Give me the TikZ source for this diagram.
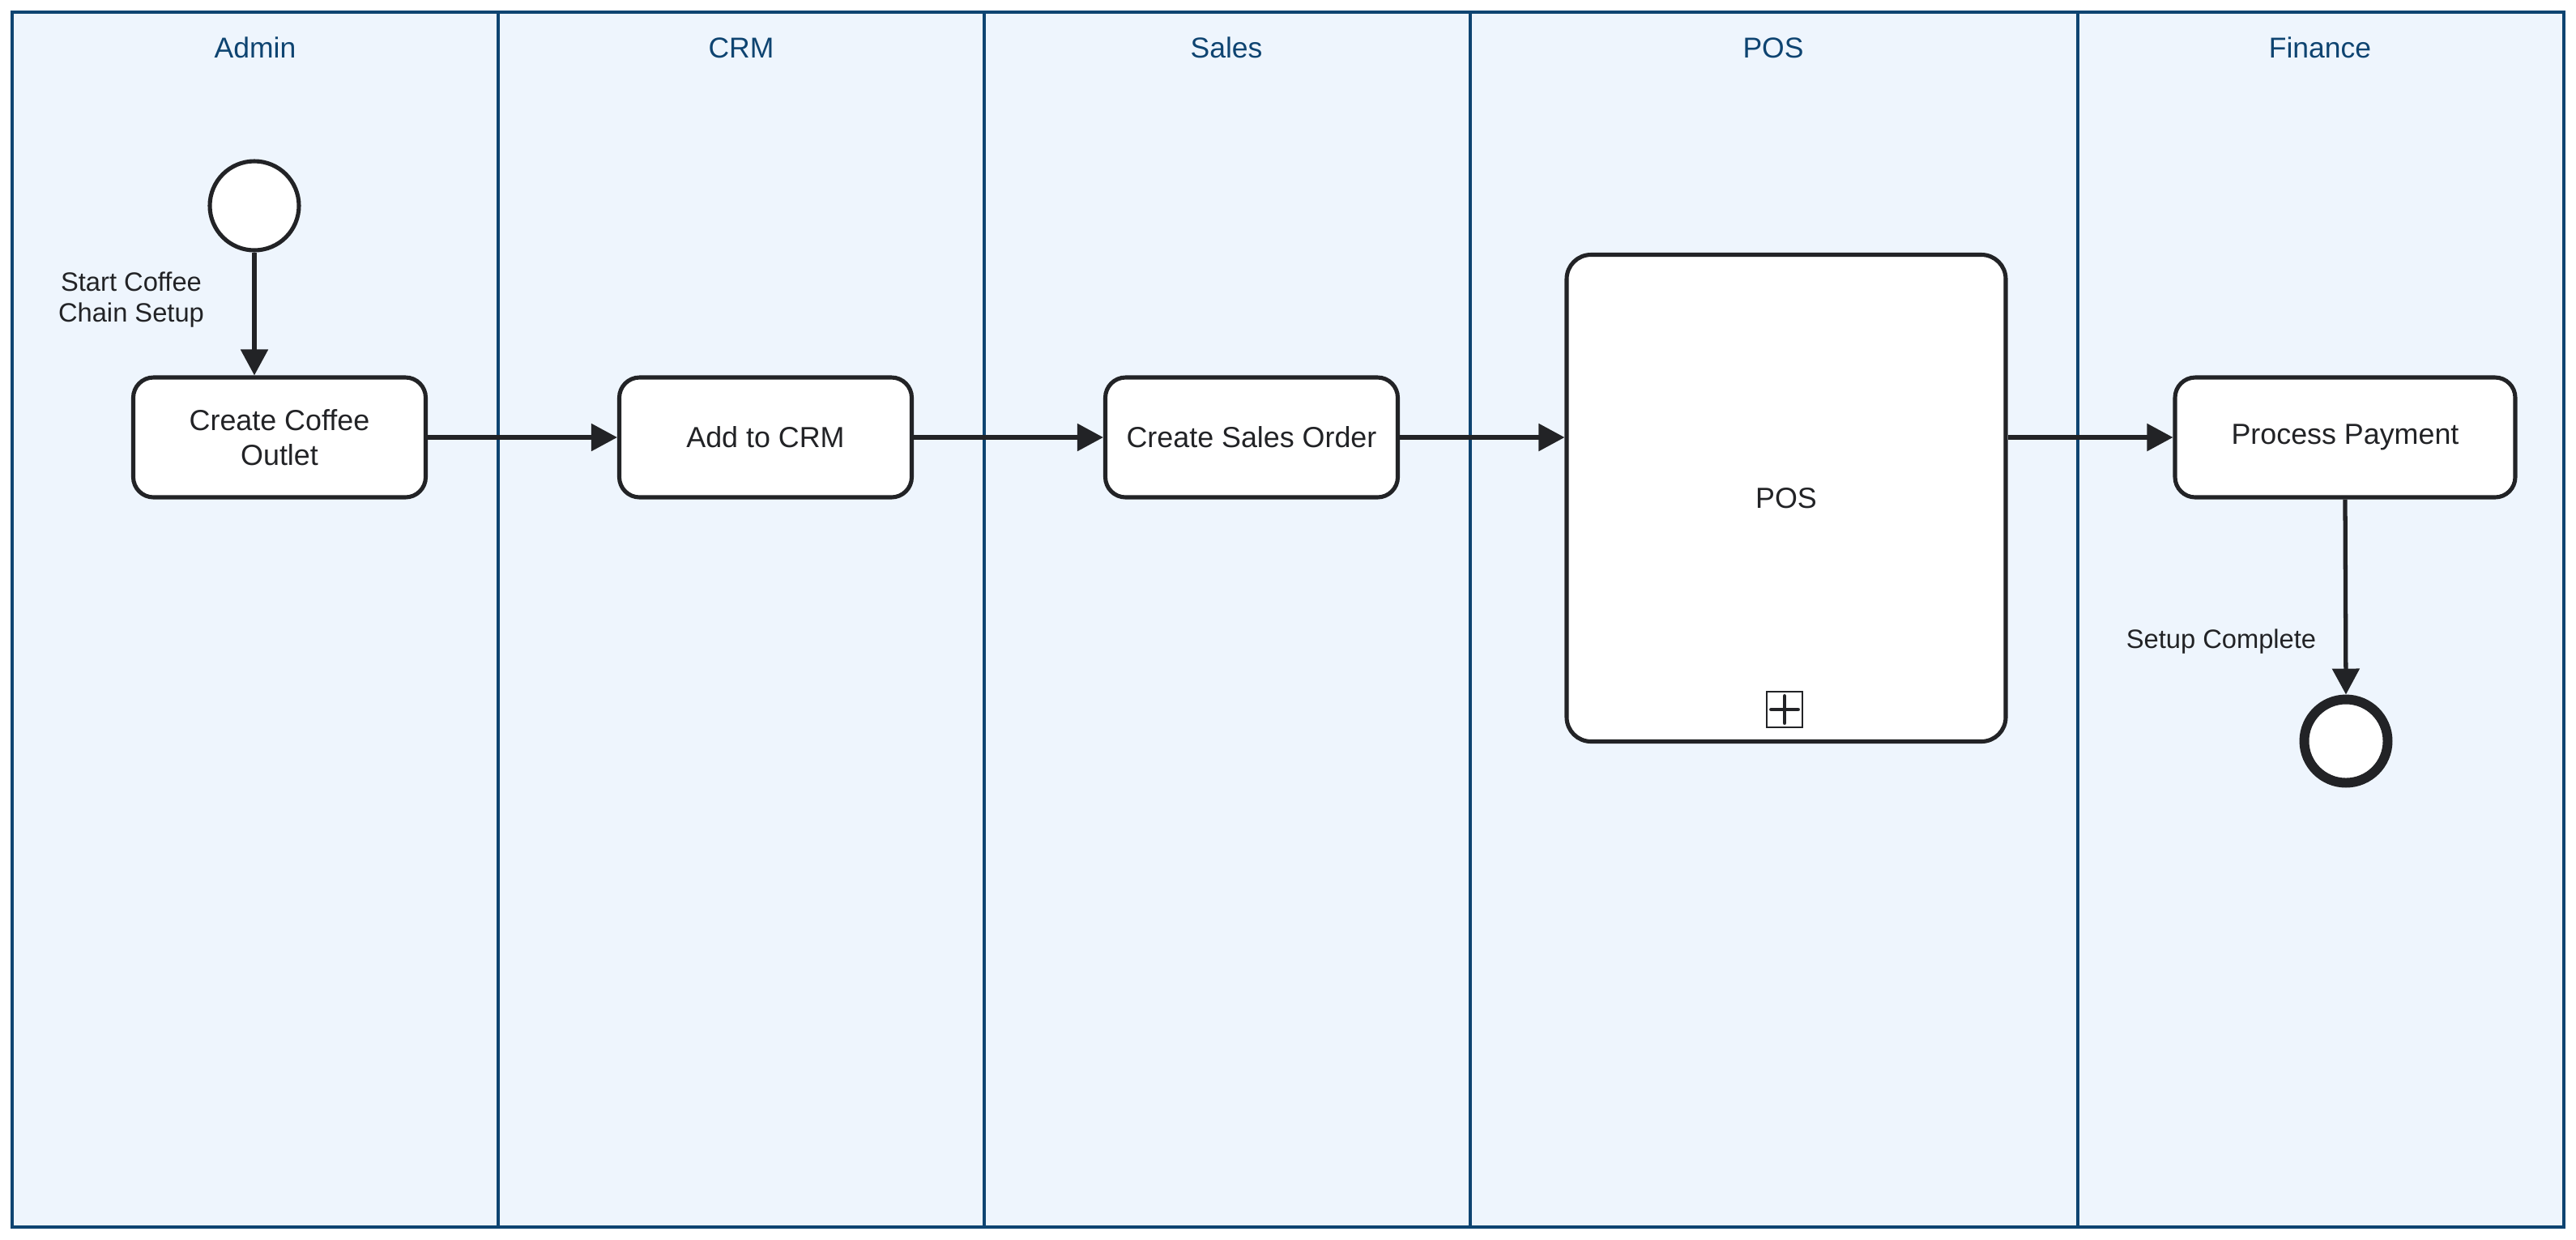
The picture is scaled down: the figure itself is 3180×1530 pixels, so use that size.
\documentclass[tikz,border=0pt]{standalone}
\usepackage{fontspec}
\setmainfont{Liberation Sans}
\usetikzlibrary{arrows.meta}
\definecolor{lanefill}{HTML}{EEF5FD}
\definecolor{laneline}{HTML}{0E4471}
\definecolor{ink}{HTML}{222326}
\tikzset{
  lanetitle/.style={text=laneline, font=\fontsize{10.1}{12}\selectfont, inner sep=0},
  task/.style={draw=ink, line width=1.45pt, fill=white, rounded corners=2.5mm,
    minimum width=36.1mm, minimum height=14.8mm, align=center, inner sep=0,
    text=ink, font=\fontsize{10.2}{12.2}\selectfont},
  flow/.style={draw=ink, line width=1.5pt, -{Triangle[length=3.2mm,width=3.3mm]}},
  lbl/.style={text=ink, align=center, inner sep=0, font=\fontsize{9.3}{10.8}\selectfont},
}
\begin{document}
\begin{tikzpicture}[x=0.1mm,y=-0.1mm]
\useasboundingbox (0,0) rectangle (3180,1530);
% pool and lanes
\fill[white] (0,0) rectangle (3180,1530);
\filldraw[fill=lanefill, draw=laneline, line width=1.3pt] (15,15) rectangle (3165,1515);
\foreach \x in {615,1215,1815,2565}
  \draw[laneline, line width=1.3pt] (\x,15) -- (\x,1515);
\node[lanetitle] (tadmin) at (315,59) {Admin};
\node[lanetitle] (tcrm) at (915,59) {CRM};
\node[lanetitle] (tsales) at (1514,59) {Sales};
\node[lanetitle] (tpos) at (2189,59) {POS};
\node[lanetitle] (tfin) at (2864,59) {Finance};
% events
\node[circle, draw=ink, line width=1.45pt, fill=white, minimum size=11mm, inner sep=0] (start) at (314,254) {};
\node[circle, draw=ink, line width=3.4pt, fill=white, minimum size=10.3mm, inner sep=0] (end) at (2896,915) {};
% tasks
\node[task] (cob) at (345,540) {Create Coffee\\Outlet};
\node[task] (crm) at (945,540) {Add to CRM};
\node[task] (sales) at (1545,540) {Create Sales Order};
\node[task, minimum width=54.2mm, minimum height=60.1mm, rounded corners=3mm] (pos) at (2205,615) {POS};
\node[task, minimum width=42mm] (pp) at (2895,540) {Process Payment};
% collapsed sub-process marker
\node[draw=ink, line width=0.6pt, fill=white, minimum size=4.4mm, inner sep=0] (plus) at (2203,876) {};
\draw[ink, line width=1.4pt, line cap=round] ([yshift=1.65mm]plus.center) -- ([yshift=-1.65mm]plus.center);
\draw[ink, line width=1.4pt, line cap=round] ([xshift=-1.65mm]plus.center) -- ([xshift=1.65mm]plus.center);
% flows
\draw[flow] (start) -- (start |- cob.north);
\draw[flow] (cob.east) -- (crm.west);
\draw[flow] (crm.east) -- (sales.west);
\draw[flow] (sales.east) -- (sales.east -| pos.west);
\draw[flow] (pos.east |- pp.west) -- (pp.west);
\draw[flow] (pp.south) -- (end.north);
% labels
\node[lbl] (l1) at (162,370) {Start Coffee\\Chain Setup};
\node[lbl] (l2) at (2742,792) {Setup Complete};
\end{tikzpicture}
\end{document}
